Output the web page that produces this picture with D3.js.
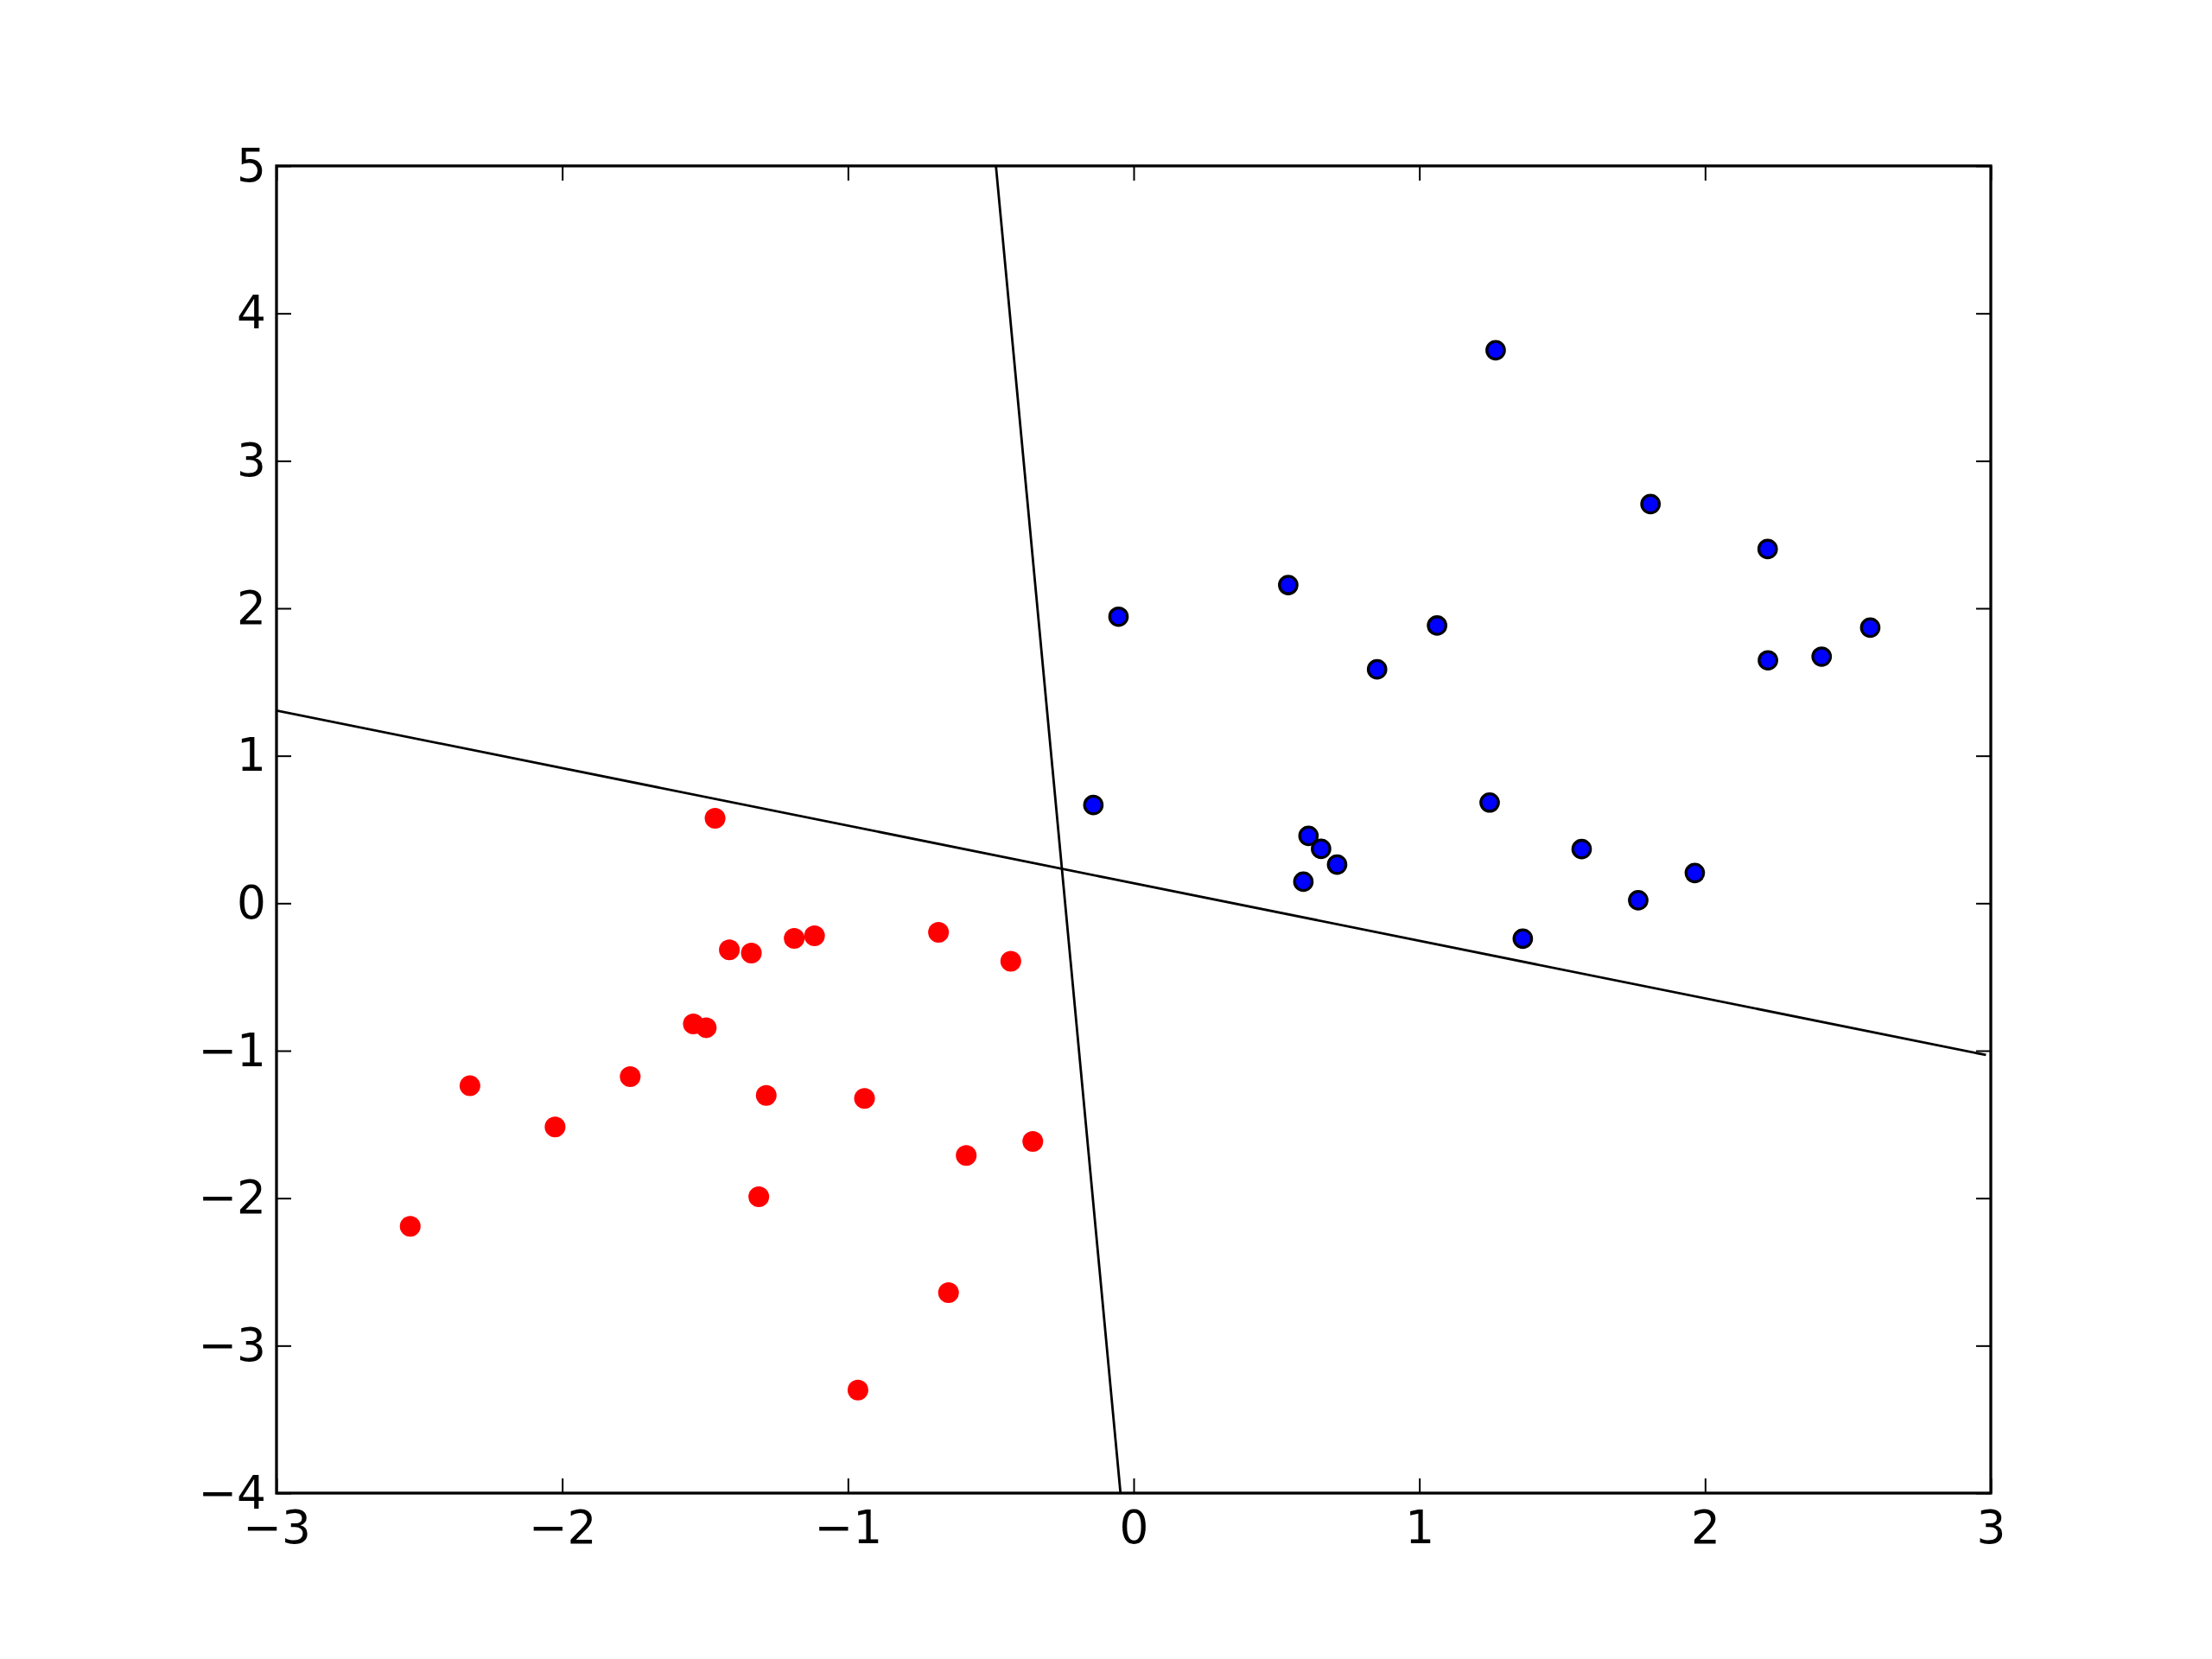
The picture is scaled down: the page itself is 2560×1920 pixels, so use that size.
<!DOCTYPE html>
<html>
<head>
<meta charset="utf-8">
<script src="https://cdn.jsdelivr.net/npm/d3@7"></script>
<style>
  html, body { margin: 0; padding: 0; background: #fff; }
  text { font-family: "DejaVu Sans", sans-serif; }
</style>
</head>
<body>
<svg id="chart" width="2560" height="1920"></svg>
<script>
// ---- data ----
const redX = [-1.541, -1.496, -2.323, -1.762, -1.286, -2.025, -1.312, -2.532, -1.465, -1.415,
              -1.338, -1.188, -1.117, -0.683, -0.430, -0.942, -0.586, -0.353, -0.648, -0.965];
const redY = [-0.818, -0.844, -1.238, -1.176, -1.303, -1.517, -1.990, -2.191, 0.576, -0.316,
              -0.338, -0.238, -0.221, -0.197, -0.393, -1.324, -1.711, -1.615, -2.641, -3.301];
const blueX = [-0.053, 0.541, 1.062, 0.852, -0.141, 0.612, 0.656, 0.712, 0.594, 1.267,
               1.809, 2.219, 2.220, 2.408, 2.578, 1.246, 1.568, 1.964, 1.766, 1.362];
const blueY = [1.943, 2.158, 1.883, 1.586, 0.666, 0.457, 0.369, 0.262, 0.146, 3.750,
               2.707, 2.402, 1.647, 1.672, 1.869, 0.683, 0.367, 0.205, 0.020, -0.240];
const line1X = [-0.482, -0.046];
const line1Y = [5, -4];
const line2X = [-3, 2.983];
const line2Y = [1.307, -1.029];
const xTicks = [-3, -2, -1, 0, 1, 2, 3];
const yTicks = [-4, -3, -2, -1, 0, 1, 2, 3, 4, 5];

// ---- layout ----
const W = 2560, H = 1920;
const mLeft = 320, mRight = 2304, mTop = 192, mBottom = 1728;
const svg = d3.select("#chart");
svg.append("rect").attr("width", W).attr("height", H).attr("fill", "#fff");

const x = d3.scaleLinear().domain([-3, 3]).range([mLeft, mRight]);
const y = d3.scaleLinear().domain([-4, 5]).range([mBottom, mTop]);

svg.append("clipPath").attr("id", "plotclip")
  .append("rect").attr("x", mLeft).attr("y", mTop)
  .attr("width", mRight - mLeft).attr("height", mBottom - mTop);

const fmt = d => (d < 0 ? "\u2212" + Math.abs(d) : String(d));
const tickLen = 17, fs = 53.3;

// ---- lines ----
const lineGen = d3.line().x(d => x(d[0])).y(d => y(d[1]));
const plot = svg.append("g").attr("clip-path", "url(#plotclip)");
[[line1X, line1Y], [line2X, line2Y]].forEach(([lx, ly]) => {
  plot.append("path")
    .datum(lx.map((v, i) => [v, ly[i]]))
    .attr("d", lineGen)
    .attr("fill", "none").attr("stroke", "#000").attr("stroke-width", 2.8);
});

// ---- points ----
plot.append("g").selectAll("circle")
  .data(redX.map((v, i) => [v, redY[i]]))
  .join("circle")
  .attr("cx", d => x(d[0])).attr("cy", d => y(d[1]))
  .attr("r", 12).attr("fill", "#ff0000");

plot.append("g").selectAll("circle")
  .data(blueX.map((v, i) => [v, blueY[i]]))
  .join("circle")
  .attr("cx", d => x(d[0])).attr("cy", d => y(d[1]))
  .attr("r", 10.2).attr("fill", "#0000ff")
  .attr("stroke", "#000").attr("stroke-width", 3.3);

// ---- axes (ticks inside, on all four sides) ----
const axB = d3.axisBottom(x).tickValues(xTicks).tickSize(-tickLen).tickPadding(20).tickFormat(fmt);
const axT = d3.axisTop(x).tickValues(xTicks).tickSize(-tickLen).tickFormat("");
const axL = d3.axisLeft(y).tickValues(yTicks).tickSize(-tickLen).tickPadding(12).tickFormat(fmt);
const axR = d3.axisRight(y).tickValues(yTicks).tickSize(-tickLen).tickFormat("");

function style(g) {
  g.select(".domain").remove();
  g.selectAll(".tick line").attr("stroke", "#000").attr("stroke-width", 2);
  g.selectAll(".tick text").attr("fill", "#000").attr("font-size", fs)
    .attr("font-family", "DejaVu Sans");
}
svg.append("g").attr("transform", `translate(0,${mBottom})`).call(axB).call(style);
svg.append("g").attr("transform", `translate(0,${mTop})`).call(axT).call(style);
svg.append("g").attr("transform", `translate(${mLeft},0)`).call(axL).call(style);
svg.append("g").attr("transform", `translate(${mRight},0)`).call(axR).call(style);

// ---- spines ----
svg.append("rect").attr("x", mLeft).attr("y", mTop)
  .attr("width", mRight - mLeft).attr("height", mBottom - mTop)
  .attr("fill", "none").attr("stroke", "#000").attr("stroke-width", 3.3);
</script>
</body>
</html>
